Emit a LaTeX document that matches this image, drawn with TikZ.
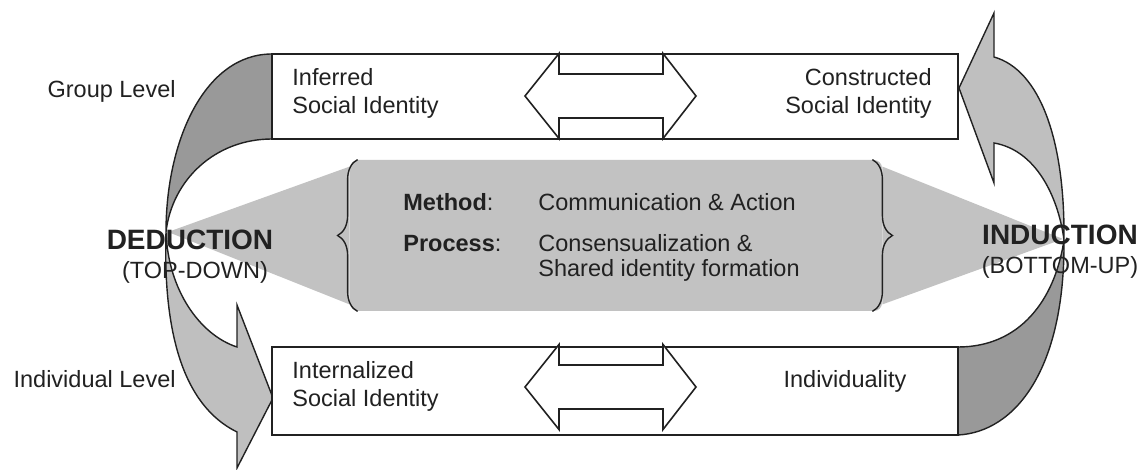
\documentclass[tikz,border=0pt]{standalone}
\usepackage{fontspec}
\setmainfont{Liberation Sans}
\usetikzlibrary{decorations.pathreplacing,positioning}
\definecolor{crescentgray}{gray}{0.6}
\definecolor{sweepgray}{gray}{0.75}
\definecolor{coregray}{gray}{0.76}
\definecolor{inkgray}{gray}{0.13}

\begin{document}
\begin{tikzpicture}[x=0.5pt, y=-0.5pt,
  outline/.style={draw=inkgray, line width=0.7pt},
  levelbox/.style={draw=inkgray, fill=white, line width=0.8pt,
    minimum width=343pt, inner sep=0pt},
  corefill/.style={fill=coregray, rounded corners=4pt, inner sep=0pt},
  curly/.style={draw=inkgray, line width=0.7pt, decorate,
    decoration={brace, amplitude=10pt}},
  lvltext/.style={font=\fontsize{11.75}{14}\selectfont, text=inkgray,
    inner sep=0pt},
  modetext/.style={font=\fontsize{14}{16}\selectfont\bfseries, text=inkgray,
    inner sep=0pt}
]
\useasboundingbox (0,0) rectangle (1146,470);

% shaded middle band with braces
\node[corefill, minimum width=266pt, minimum height=75.5pt] (core) at (616,235.5) {};
\fill[coregray] (168,232) -- ([yshift=-3.5pt]core.north west)
  -- ([yshift=3.5pt]core.south west) -- cycle;
\fill[coregray] (1063,239) -- ([yshift=-3.5pt]core.north east)
  -- ([yshift=3.5pt]core.south east) -- cycle;
\draw[curly] ([xshift=4pt]core.south west) -- ([xshift=4pt]core.north west);
\draw[curly] ([xshift=-5pt]core.north east) -- ([xshift=-5pt]core.south east);

% crescents and curved arrows
\draw[outline, fill=crescentgray] (272,54) .. controls (205,54) and (166,140) .. (166,232)
  .. controls (172,180) and (215,139) .. (272,139) -- cycle;
\draw[outline, fill=sweepgray] (166,232) .. controls (163,330) and (182,405) .. (237,432)
  -- (237,468) -- (273,398) -- (237,305) -- (237,347)
  .. controls (200,335) and (168,290) .. (166,232) -- cycle;
\draw[outline, fill=crescentgray] (958,435) .. controls (1015,432) and (1065,370) .. (1064,240)
  .. controls (1055,300) and (1020,347) .. (958,347) -- cycle;
\draw[outline, fill=sweepgray] (959,88) -- (994,13) -- (994,57)
  .. controls (1040,70) and (1065,140) .. (1064,240)
  .. controls (1058,195) and (1035,150) .. (994,143) -- (994,183) -- cycle;

% level boxes
\node[levelbox, minimum height=42.5pt] (topbox) at (615,96.5) {};
\node[levelbox, minimum height=44pt] (botbox) at (615,391) {};

\foreach \yc in {96,387}
  \draw[outline, fill=white, line width=0.8pt] (525,\yc) -- (559,\yc-42.5) -- (559,\yc-22)
    -- (663,\yc-22) -- (663,\yc-42.5) -- (696,\yc) -- (663,\yc+42.5) -- (663,\yc+22)
    -- (559,\yc+22) -- (559,\yc+42.5) -- cycle;

% texts
\node[lvltext, anchor=base east] (grouplvl) at (176,98) {Group Level};
\node[lvltext, anchor=base east] (indivlvl) at (176,387) {Individual Level};
\node[lvltext, anchor=west, align=left] (inferred) at (292,93) {Inferred\\Social Identity};
\node[lvltext, anchor=east, align=right] (constructed) at (932,93) {Constructed\\Social Identity};
\node[lvltext, anchor=west, align=left] (internalized) at (292,386) {Internalized\\Social Identity};
\node[lvltext, anchor=base] (individuality) at (845,387) {Individuality};

\node[modetext, anchor=base] (deduction) at (190,250) {DEDUCTION};
\node[lvltext, anchor=base] (topdown) at (195,279) {(TOP-DOWN)};
\node[modetext, anchor=base] (induction) at (1060,245) {INDUCTION};
\node[lvltext, anchor=base] (bottomup) at (1060,274) {(BOTTOM-UP)};

\node[lvltext, anchor=west, font=\fontsize{11.75}{12.5}\selectfont] (method) at (403,239) {%
  \begin{tabular}{@{}p{67.5pt}@{}l@{}}
    \textbf{Method}: & Communication \& Action\\[8pt]
    \textbf{Process}: & Consensualization \&\\
     & Shared identity formation
  \end{tabular}};
\end{tikzpicture}
\end{document}
